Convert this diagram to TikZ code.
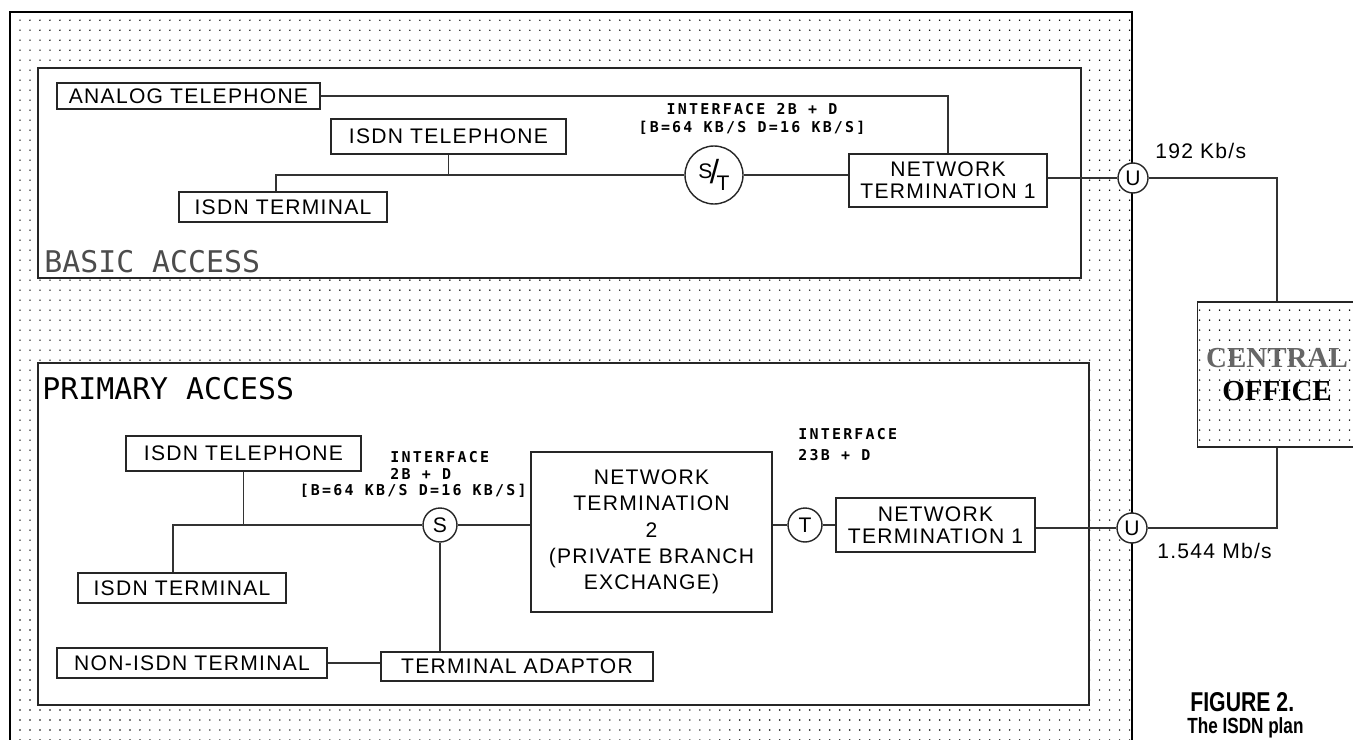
\documentclass[tikz,border=0pt]{standalone}
\usepackage{fontspec}
\usetikzlibrary{patterns}
\newfontfamily\boxfont[LetterSpace=6]{Liberation Sans}
\newfontfamily\dotfont[LetterSpace=15]{DejaVu Sans Mono}
\newfontfamily\headfont{DejaVu Sans Mono}
\newfontfamily\cofont{Liberation Serif}
\newfontfamily\capfont[FakeStretch=0.78]{Liberation Sans}
\pgfdeclarepatternformonly{isdndots}{\pgfqpoint{-1pt}{-1pt}}{\pgfqpoint{1pt}{1pt}}{\pgfqpoint{5.69pt}{5.69pt}}{\pgfpathcircle{\pgfqpoint{0pt}{0pt}}{0.45pt}\pgfusepath{fill}}

\begin{document}
\begin{tikzpicture}[
  x=0.02cm, y=-0.02cm,
  font=\boxfont\fontsize{12}{15}\selectfont,
  box/.style={rectangle, draw=black!85, line width=0.8pt, inner sep=2pt, align=center},
  port/.style={circle, draw=black!85, line width=0.8pt, fill=white, inner sep=0pt, minimum size=0.68cm},
  link/.style={draw=black!80, line width=0.8pt},
  frame/.style={draw=black, line width=1.6pt},
  section/.style={draw=black!85, line width=0.9pt, fill=white},
  iface/.style={font=\dotfont\bfseries\fontsize{8.5}{10}\selectfont, inner sep=0pt},
  rate/.style={anchor=west, inner sep=0pt},
  title/.style={anchor=west, inner sep=0pt, font=\headfont\fontsize{17}{20}\selectfont}
]
\useasboundingbox (0,0) rectangle (1353,740);
\fill[pattern=isdndots] (10,12) rectangle (1132,760);
\draw[frame] (10,760) -- (10,12) -- (1132,12) -- (1132,760);
\draw[section] (38,68) rectangle (1081,278);
\draw[section] (38,363) rectangle (1089,705);

\node[rectangle, draw=black!85, line width=1.1pt, pattern=isdndots, minimum width=3.18cm, minimum height=2.9cm,
      align=center, font=\cofont\bfseries\fontsize{16.5}{19}\selectfont] (co) at (1277,374.5)
      {\textcolor{black!60}{CENTRAL}\\OFFICE};

\node[box, minimum width=5.26cm, minimum height=0.52cm] (anatel) at (188.5,96) {ANALOG TELEPHONE};
\node[box, minimum width=4.7cm, minimum height=0.7cm] (isdntel1) at (448.5,136.5) {ISDN TELEPHONE};
\node[box, minimum width=4.16cm, minimum height=0.6cm] (isdnterm1) at (283,207) {ISDN TERMINAL};
\node[port, minimum size=1.16cm] (st) at (714,175)
      {\raisebox{0.45ex}{S}\kern-0.12em{\fontsize{19}{19}\selectfont/}\kern-0.12em\raisebox{-0.7ex}{T}};
\node[box, minimum width=3.96cm, minimum height=1.06cm, font=\boxfont\fontsize{12}{12.5}\selectfont] (nt1a) at (948,180.5)
      {NETWORK\\TERMINATION 1};
\node[port, minimum size=0.6cm] (ua) at (1133,178) {U};
\node[iface, align=center] (ifa) at (752,119) {INTERFACE 2B + D\\{[}B=64 KB/S D=16 KB/S{]}};
\node[rate] (r192) at (1155,151) {192 Kb/s};
\node[title, text=black!70] (basic) at (44,262) {BASIC ACCESS};

\draw[link] (anatel.east) -| (nt1a.north);
\draw[link] (isdntel1.south) -- (isdntel1.south |- st.west);
\draw[link] ([xshift=-0.14cm]isdnterm1.north) |- (st.west);
\draw[link] (st.east) -- (st.east -| nt1a.west);
\draw[link] (nt1a.east |- ua.west) -- (ua.west);
\draw[link] (ua.east) -| (co.north);

\node[title] (primary) at (42,389) {PRIMARY ACCESS};
\node[box, minimum width=4.7cm, minimum height=0.7cm] (isdntel2) at (243.5,453.5) {ISDN TELEPHONE};
\node[box, minimum width=4.16cm, minimum height=0.6cm] (isdnterm2) at (182,588) {ISDN TERMINAL};
\node[box, minimum width=5.4cm, minimum height=0.6cm] (nonisdn) at (192,663) {NON-ISDN TERMINAL};
\node[box, minimum width=5.44cm, minimum height=0.58cm] (ta) at (517,666.5) {TERMINAL ADAPTOR};
\node[port] (s) at (440,525) {S};
\node[box, minimum width=4.82cm, minimum height=3.2cm] (nt2) at (651.5,532)
      {NETWORK\\TERMINATION\\2\\(PRIVATE BRANCH\\EXCHANGE)};
\node[port] (t) at (805,525) {T};
\node[box, minimum width=3.98cm, minimum height=1.08cm, font=\boxfont\fontsize{12}{12.5}\selectfont] (nt1b) at (935.5,525)
      {NETWORK\\TERMINATION 1};
\node[port, minimum size=0.6cm] (ub) at (1132,528) {U};
\node[iface, align=left, anchor=west] (ifb) at (390,465.5) {INTERFACE\\2B + D};
\node[iface, anchor=east] (ifbrate) at (527,491) {{[}B=64 KB/S D=16 KB/S{]}};
\node[iface, align=left, anchor=west, font=\dotfont\bfseries\fontsize{8.5}{12}\selectfont] (ifc) at (798,444.5)
      {INTERFACE\\23B + D};
\node[rate] (r1544) at (1157,551) {1.544 Mb/s};

\draw[link] (isdntel2.south) -- (isdntel2.south |- s.west);
\draw[link] ([xshift=-0.18cm]isdnterm2.north) |- (s.west);
\draw[link] (s.east) -- (s.east -| nt2.west);
\draw[link] (s.south) -- (s.south |- ta.north);
\draw[link] (nonisdn.east) -- (nonisdn.east -| ta.west);
\draw[link] (nt2.east |- t.west) -- (t.west);
\draw[link] (t.east) -- (t.east -| nt1b.west);
\draw[link] (nt1b.east |- ub.west) -- (ub.west);
\draw[link] (ub.east) -| (co.south);

\node[anchor=west, inner sep=0pt, font=\capfont\bfseries\fontsize{15.5}{18}\selectfont] (fig) at (1190,702) {FIGURE 2.};
\node[anchor=base west, inner sep=0pt, font=\capfont\bfseries\fontsize{12.5}{15}\selectfont] (plan) at (1187,733) {The ISDN plan};
\end{tikzpicture}
\end{document}
